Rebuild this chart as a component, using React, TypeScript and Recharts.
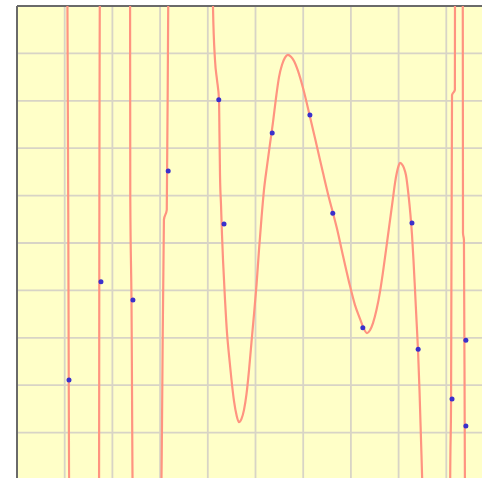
import React from 'react';
import { ComposedChart, XAxis, YAxis, CartesianGrid, Line, Scatter, ReferenceLine } from 'recharts';

const xTicks = [0, 1, 2, 3, 4, 5, 6, 7, 8, 9, 10];
const yTicks = [0, 1, 2, 3, 4, 5, 6, 7, 8, 9, 10];

const pointX = [1.09, 1.76, 2.43, 3.17, 4.23, 4.34, 5.35, 6.14, 6.62, 7.25, 8.28, 8.41, 9.12, 9.41, 9.41];
const pointY = [2.11, 4.18, 3.80, 6.52, 8.02, 5.40, 7.32, 7.70, 5.63, 3.21, 5.42, 2.76, 1.71, 2.95, 1.14];

const curveX = [
  0, 1.055, 1.085, 1.095,
  1.72, 1.725, 1.74,
  2.37, 2.375, 2.40, 2.43,
  3.02, 3.04, 3.08, 3.14, 3.17, 3.175,
  4.105, 4.109, 4.151, 4.193, 4.235, 4.245, 4.256, 4.277, 4.298, 4.319, 4.361, 4.403, 4.444, 4.497, 4.549, 4.602, 4.654,
  4.706, 4.759, 4.811, 4.864, 4.916, 4.969, 5.021, 5.073, 5.126, 5.178, 5.241, 5.304, 5.367, 5.430, 5.493, 5.556, 5.618, 5.681,
  5.744, 5.807, 5.891, 5.996, 6.143, 6.289, 6.415, 6.541, 6.625, 6.709, 6.834, 6.960, 7.086, 7.191, 7.254, 7.338,
  7.400, 7.463, 7.537, 7.610, 7.673, 7.736, 7.809, 7.883, 7.925, 7.966, 7.998, 8.029,
  8.071, 8.113, 8.155, 8.208, 8.249, 8.281, 8.312, 8.344, 8.375, 8.407, 8.438, 8.470, 8.501, 8.51,
  9.08, 9.082, 9.10, 9.12, 9.18, 9.182, 9.185,
  9.345, 9.35, 9.37, 9.39, 9.395, 10,
];
const curveY = [
  10.6, 10.6, 2.11, -0.6,
  -0.6, 4.18, 10.6,
  10.6, 5.93, 3.80, -0.6,
  -0.6, 1.16, 5.49, 5.70, 9.98, 10.6,
  10.6, 9.98, 8.86, 8.44, 8.02, 7.28, 6.43, 5.80, 5.17, 4.64, 3.80, 3.10, 2.64, 2.11, 1.67, 1.37, 1.22,
  1.29, 1.48, 1.81, 2.32, 2.91, 3.50, 4.11, 4.85, 5.53, 6.12, 6.62, 7.09, 7.55, 8.06, 8.50, 8.76, 8.91, 8.97,
  8.93, 8.84, 8.63, 8.27, 7.66, 7.03, 6.48, 5.95, 5.63, 5.30, 4.73, 4.18, 3.69, 3.40, 3.23, 3.10,
  3.16, 3.31, 3.59, 3.97, 4.39, 4.85, 5.40, 5.95, 6.27, 6.50, 6.62, 6.69,
  6.66, 6.58, 6.43, 6.01, 5.59, 5.17, 4.64, 4.01, 3.38, 2.74, 1.90, 0.84, -0.21, -0.6,
  -0.6, 0.04, 1.71, 8.12, 8.23, 9.98, 10.6,
  10.6, 5.21, 5.06, 0.04, -0.6, -0.6,
];

const curve = curveX.map((x, i) => ({ x, y: curveY[i] }));
const points = pointX.map((x, i) => ({ x, y: pointY[i] }));

const Dot = (props: any) => {
  const { cx, cy } = props;
  if (cx == null || cy == null) return null;
  return <circle cx={cx} cy={cy} r={2.5} fill="#3a30cc" />;
};

export default function App() {
  return (
    <div style={{ position: 'absolute', left: 0, top: 0, width: 482, height: 478, overflow: 'hidden', background: '#ffffff' }}>
      <ComposedChart width={500} height={486} margin={{ top: 6, right: 6, bottom: 6, left: 17 }}>
        <CartesianGrid fill="#ffffc8" stroke="#d8d4c6" strokeWidth={1.8} />
        <XAxis dataKey="x" type="number" domain={[0, 10]} ticks={xTicks} allowDataOverflow hide />
        <YAxis type="number" domain={[0, 10]} ticks={yTicks} allowDataOverflow hide />
        <ReferenceLine x={0} stroke="#6a6a6a" strokeWidth={2} />
        <ReferenceLine y={10} stroke="#6a6a6a" strokeWidth={2} />
        <Line data={curve} dataKey="y" type="monotone" stroke="#ff9480" strokeWidth={2.2} dot={false} activeDot={false} isAnimationActive={false} />
        <Scatter data={points} dataKey="y" shape={Dot} isAnimationActive={false} />
      </ComposedChart>
    </div>
  );
}
